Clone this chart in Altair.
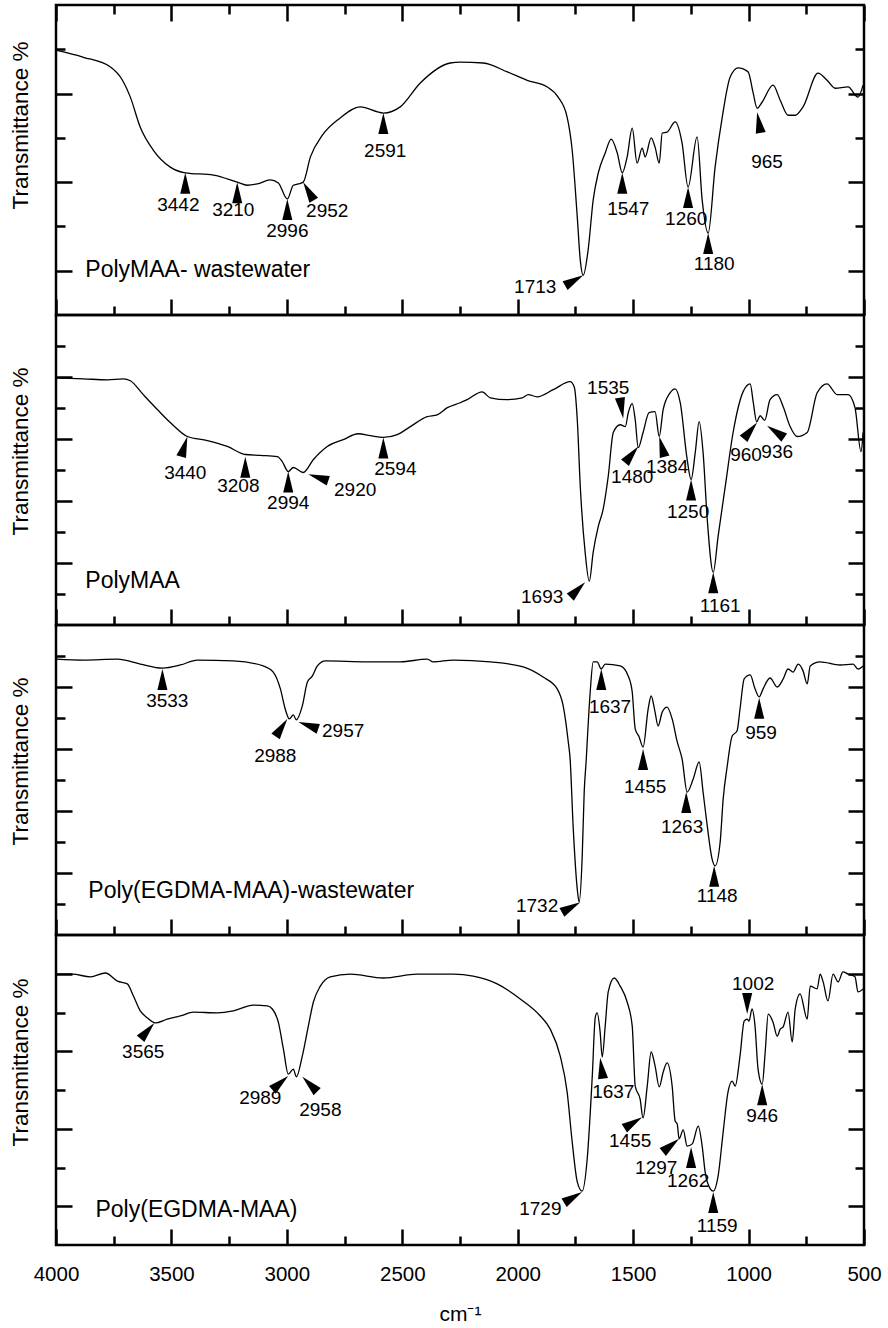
import altair as alt
import pandas as pd

W = 808
H = 310
FONT = "Liberation Sans"

X_MAJOR = [4000, 3500, 3000, 2500, 2000, 1500, 1000, 500]
X_MINOR = [3750, 3250, 2750, 2250, 1750, 1250, 750]

# ---------------- Panel 1: PolyMAA- wastewater ----------------
P1_WN = [4000, 3881, 3764, 3712, 3678, 3635, 3578, 3505, 3440, 3318, 3215, 3171, 3128, 3072, 3037,
         2998, 2972, 2950, 2929, 2898, 2846, 2769, 2682, 2582, 2509, 2422, 2292, 2249, 2149, 2045,
         1959, 1872, 1825, 1786, 1764, 1742, 1729, 1716, 1695, 1673, 1651, 1621, 1595, 1569, 1547,
         1526, 1504, 1483, 1461, 1448, 1422, 1405, 1387, 1374, 1353, 1318, 1288, 1262, 1223, 1201,
         1175, 1145, 1114, 1080, 1045, 1002, 980, 963, 941, 894, 863, 829, 798, 764, 699, 660, 625,
         569, 526, 504]
P1_T = [5.98, 5.82, 5.60, 5.30, 4.92, 4.24, 3.72, 3.34, 3.21, 3.16, 3.00, 2.93, 2.96, 3.05, 2.98,
        2.62, 2.93, 2.96, 3.00, 3.57, 4.06, 4.45, 4.70, 4.56, 4.70, 5.24, 5.69, 5.71, 5.69, 5.49,
        5.30, 5.15, 4.92, 4.47, 3.72, 2.21, 1.24, 0.90, 1.47, 2.60, 3.21, 3.66, 3.97, 3.66, 3.21,
        3.57, 4.22, 3.43, 3.77, 3.57, 4.00, 3.79, 3.43, 4.11, 4.13, 4.36, 3.88, 2.89, 4.02, 2.60,
        1.85, 3.34, 4.47, 5.37, 5.58, 5.49, 5.01, 4.67, 4.81, 5.19, 4.85, 4.51, 4.51, 4.70, 5.46, 5.30, 5.12,
        5.15, 4.92, 5.19]
P1_LABEL = ["3442", "3210", "2996", "2952", "2591", "1713", "1547", "1260", "1180", "965"]
P1_TIP_WN = [3440, 3215, 2998, 2929, 2582, 1716, 1547, 1262, 1175, 963]
P1_TIP_T = [3.21, 3.00, 2.62, 3.00, 4.56, 0.90, 3.21, 2.89, 1.85, 4.58]
P1_ANGLE = [0, 0, 0, 330, 0, 60, 0, 0, 0, 350]
P1_LAB_WN = [3470, 3232, 2998, 2825, 2574, 1924, 1521, 1270, 1149, 920]
P1_LAB_T = [2.48, 2.37, 1.90, 2.35, 3.70, 0.63, 2.39, 2.17, 1.15, 3.45]

# ---------------- Panel 2: PolyMAA ----------------
P2_WN = [4000, 3881, 3777, 3708, 3678, 3622, 3561, 3505, 3431, 3344, 3258, 3180, 3115, 3041, 3020,
         2994, 2972, 2929, 2885, 2825, 2756, 2691, 2639, 2582, 2522, 2465, 2392, 2349, 2305, 2249,
         2219, 2154, 2119, 2045, 1980, 1954, 1916, 1846, 1773, 1755, 1742, 1729, 1708, 1690, 1673,
         1651, 1630, 1608, 1586, 1556, 1534, 1521, 1504, 1491, 1478, 1457, 1431, 1405, 1387, 1370,
         1340, 1318, 1296, 1266, 1249, 1231, 1214, 1197, 1179, 1153, 1132, 1101, 1067, 1024, 993,
         980, 965, 950, 930, 907, 876, 850, 820, 790, 746, 703, 660, 616, 569, 539, 513, 504]
P2_T = [7.97, 7.94, 7.91, 7.94, 7.88, 7.43, 6.95, 6.53, 6.08, 5.95, 5.76, 5.50, 5.47, 5.43, 5.27,
        4.95, 5.08, 4.92, 5.34, 5.76, 5.98, 6.17, 6.11, 6.05, 6.14, 6.40, 6.72, 6.78, 7.01, 7.17,
        7.27, 7.52, 7.33, 7.27, 7.33, 7.43, 7.36, 7.59, 7.85, 7.68, 6.62, 4.47, 2.35, 1.41, 2.35,
        3.18, 3.73, 4.79, 6.21, 6.46, 6.40, 6.85, 7.14, 6.62, 5.72, 6.21, 6.85, 6.88, 6.08, 6.95,
        7.49, 7.62, 7.17, 5.34, 4.69, 5.56, 6.56, 5.56, 3.41, 1.70, 2.86, 4.47, 6.21, 7.52, 7.78,
        7.20, 6.55, 6.75, 6.60, 7.27, 7.43, 7.04, 6.40, 6.08, 6.21, 7.49, 7.78, 7.43, 7.43, 7.01, 5.59, 6.21]
P2_LABEL = ["3440", "3208", "2994", "2920", "2594", "1693", "1535", "1480", "1384", "1250", "1161", "960", "936"]
P2_TIP_WN = [3431, 3180, 2994, 2907, 2582, 1708, 1543, 1478, 1387, 1249, 1153, 963, 920]
P2_TIP_T = [6.08, 5.43, 4.95, 4.86, 6.05, 1.38, 6.66, 5.76, 6.08, 4.69, 1.70, 6.53, 6.43]
P2_ANGLE = [17, 0, 0, 288, 0, 45, 171, 39, 345, 0, 0, 40, 305]
P2_LAB_WN = [3440, 3210, 2994, 2704, 2530, 1894, 1608, 1504, 1353, 1262, 1123, 1011, 876]
P2_LAB_T = [4.89, 4.47, 3.95, 4.37, 5.02, 0.90, 7.65, 4.79, 5.11, 3.63, 0.61, 5.47, 5.59]

# ---------------- Panel 3: Poly(EGDMA-MAA)-wastewater ----------------
P3_WN = [4000, 3881, 3734, 3635, 3539, 3461, 3388, 3232, 3102, 3059, 3028, 3007, 2989, 2972, 2959,
         2933, 2911, 2890, 2868, 2833, 2652, 2509, 2392, 2366, 2279, 2119, 1976, 1890, 1829, 1803,
         1781, 1773, 1760, 1742, 1734, 1721, 1712, 1703, 1699, 1686, 1673, 1656, 1638, 1621, 1556,
         1521, 1504, 1491, 1474, 1457, 1435, 1422, 1405, 1392, 1374, 1353, 1331, 1309, 1288, 1266,
         1240, 1214, 1197, 1179, 1158, 1145, 1123, 1110, 1093, 1071, 1050, 1037, 1019, 993, 972,
         954, 937, 907, 876, 850, 829, 807, 785, 764, 746, 733, 690, 604, 547, 526, 504]
P3_T = [8.90, 8.87, 8.90, 8.74, 8.61, 8.71, 8.87, 8.84, 8.68, 8.48, 7.94, 7.29, 6.97, 7.10, 6.94,
        7.39, 8.16, 8.35, 8.68, 8.84, 8.81, 8.81, 8.90, 8.81, 8.87, 8.81, 8.65, 8.32, 7.94, 7.39,
        6.23, 5.68, 3.52, 1.48, 1.06, 2.45, 4.61, 5.68, 6.23, 7.84, 8.81, 8.81, 8.58, 8.74, 8.68,
        8.35, 7.84, 6.65, 6.39, 6.06, 7.29, 7.71, 7.19, 6.74, 7.19, 7.35, 6.97, 6.23, 5.68, 4.61,
        5.03, 5.58, 4.61, 3.52, 2.45, 2.23, 3.00, 4.39, 5.42, 6.42, 6.58, 7.29, 8.26, 8.39, 7.94,
        7.68, 7.94, 8.29, 8.00, 8.26, 8.58, 8.48, 8.74, 8.52, 8.10, 8.68, 8.81, 8.71, 8.74, 8.58, 8.68]
P3_LABEL = ["3533", "2988", "2957", "1732", "1637", "1455", "1263", "1148", "959"]
P3_TIP_WN = [3539, 2998, 2950, 1729, 1638, 1457, 1270, 1149, 954]
P3_TIP_T = [8.58, 6.97, 6.87, 1.06, 8.58, 6.00, 4.61, 2.23, 7.65]
P3_ANGLE = [0, 34, 289, 61, 0, 0, 0, 0, 0]
P3_LAB_WN = [3518, 3050, 2756, 1916, 1600, 1448, 1288, 1136, 946]
P3_LAB_T = [7.55, 5.77, 6.58, 0.94, 7.35, 4.77, 3.48, 1.26, 6.52]

# ---------------- Panel 4: Poly(EGDMA-MAA) ----------------
P4_WN = [4000, 3929, 3851, 3786, 3734, 3691, 3665, 3635, 3604, 3570, 3518, 3461, 3405, 3301, 3232,
         3145, 3085, 3063, 3037, 3015, 2994, 2972, 2959, 2933, 2907, 2885, 2855, 2812, 2725, 2582,
         2435, 2279, 2193, 2089, 1989, 1902, 1859, 1816, 1786, 1764, 1742, 1721, 1699, 1677, 1664,
         1656, 1643, 1634, 1621, 1608, 1582, 1556, 1526, 1504, 1491, 1470, 1457, 1439, 1422, 1405,
         1387, 1370, 1353, 1331, 1318, 1309, 1301, 1283, 1266, 1244, 1218, 1201, 1188, 1166, 1153,
         1132, 1110, 1089, 1071, 1058, 1037, 1019, 1006, 998, 985, 972, 959, 941, 928, 915, 894, 876,
         863, 850, 829, 811, 798, 777, 746, 733, 703, 690, 677, 656, 634, 612, 591, 569, 539, 526, 504]
P4_T = [6.99, 6.99, 6.92, 7.02, 6.81, 6.74, 6.43, 6.04, 5.86, 5.73, 5.83, 5.91, 6.01, 5.99, 6.04,
        6.19, 6.17, 6.09, 5.75, 5.06, 4.41, 4.54, 4.34, 4.88, 5.65, 6.27, 6.68, 6.92, 6.99, 6.89,
        6.99, 6.99, 6.94, 6.74, 6.35, 5.91, 5.57, 4.88, 3.95, 2.66, 1.63, 1.39, 2.22, 4.36, 5.88,
        5.99, 5.50, 4.85, 5.65, 6.53, 6.89, 6.68, 6.27, 5.65, 4.10, 3.77, 3.28, 4.10, 4.98, 4.62,
        4.08, 4.46, 4.70, 4.10, 3.20, 3.12, 2.74, 2.97, 2.55, 2.61, 3.07, 2.55, 1.88, 1.45, 1.39,
        1.78, 2.92, 3.95, 4.23, 4.10, 4.88, 5.78, 5.83, 5.78, 6.09, 5.65, 4.54, 4.15, 4.98, 5.96, 5.75, 5.39,
        5.57, 5.63, 6.01, 5.24, 6.09, 6.48, 5.83, 6.68, 6.61, 6.99, 6.79, 6.30, 6.99, 6.79, 7.05, 6.99, 6.92, 6.53, 6.61]
P4_LABEL = ["3565", "2989", "2958", "1729", "1637", "1455", "1297", "1262", "1159", "1002", "946"]
P4_TIP_WN = [3574, 2994, 2933, 1721, 1643, 1461, 1301, 1249, 1153, 1006, 941]
P4_TIP_T = [5.73, 4.36, 4.34, 1.37, 4.83, 3.30, 2.74, 2.53, 1.37, 5.96, 4.15]
P4_ANGLE = [41, 49, 315, 59, 352, 58, 51, 0, 0, 180, 0]
P4_LAB_WN = [3622, 3115, 2855, 1902, 1586, 1513, 1400, 1262, 1136, 980, 941]
P4_LAB_T = [4.98, 3.79, 3.48, 0.93, 3.95, 2.68, 1.99, 1.65, 0.49, 6.74, 3.33]

PANEL_NAMES = ["PolyMAA- wastewater", "PolyMAA", "Poly(EGDMA-MAA)-wastewater", "Poly(EGDMA-MAA)"]
NAME_WN = [3873, 3873, 3860, 3829]
NAME_T = [1.02, 1.41, 1.42, 0.90]

Y_DOMAINS = [[0, 7], [0, 10], [0, 10], [0, 8]]
Y_MAJOR = [[1, 3, 5], [2, 4, 6, 8], [2, 4, 6, 8], [1, 3, 5, 7]]
Y_MINOR = [[2, 4, 6], [1, 3, 5, 7, 9], [1, 3, 5, 7, 9], [2, 4, 6]]
TITLE_Y = [120, 136, 136, 127]

TRI = "M0,0L0.24,1L-0.24,1Z"


def tick_axis(orient, values, size, offset):
    return alt.Axis(orient=orient, values=values, tickSize=size, offset=offset,
                    labels=False, domain=False, grid=False, title=None, ticks=True,
                    tickColor="black", tickWidth=2.5)


def panel(i, wn, tr, lab, tip_wn, tip_t, ang, lab_wn, lab_t):
    xs = alt.Scale(domain=[4000, 500], nice=False, zero=False)
    ys = alt.Scale(domain=Y_DOMAINS[i], nice=False, zero=False)
    line_df = pd.DataFrame({"wn": wn, "t": tr})
    ann_df = pd.DataFrame({"label": lab, "wn": tip_wn, "t": tip_t, "ang": ang,
                           "lwn": lab_wn, "lt": lab_t})
    name_df = pd.DataFrame({"name": [PANEL_NAMES[i]], "wn": [NAME_WN[i]], "t": [NAME_T[i]]})
    top_panel = i == 0
    bottom_panel = i == 3

    line = alt.Chart(line_df).mark_line(color="black", strokeWidth=1.3, interpolate="monotone").encode(
        x=alt.X("wn:Q", scale=xs, axis=tick_axis("top", X_MAJOR, 16, -H)),
        y=alt.Y("t:Q", scale=ys, axis=tick_axis("right", Y_MAJOR[i], 16, -W)),
    )
    inv = alt.Chart(ann_df).mark_point(opacity=0)
    l2 = inv.encode(
        x=alt.X("wn:Q", scale=xs, axis=tick_axis("top", X_MINOR, 9, -H)),
        y=alt.Y("t:Q", scale=ys, axis=tick_axis("right", Y_MINOR[i], 9, -W)),
    )
    l3 = inv.encode(
        x=alt.X("wn:Q", scale=xs, axis=tick_axis("bottom", X_MAJOR, 16, -H) if top_panel else None),
        y=alt.Y("t:Q", scale=ys, axis=tick_axis("left", Y_MAJOR[i], 16, -W)),
    )
    l4 = inv.encode(
        x=alt.X("wn:Q", scale=xs, axis=tick_axis("bottom", X_MINOR, 9, -H) if top_panel else None),
        y=alt.Y("t:Q", scale=ys, axis=tick_axis("left", Y_MINOR[i], 9, -W)),
    )
    if bottom_panel:
        xlab = alt.Axis(orient="bottom", values=X_MAJOR, ticks=False, tickSize=0, domain=False,
                        grid=False, labelFont=FONT, labelFontSize=20.5, labelColor="black",
                        labelPadding=19, format="d", title="cm\u207b\u00b9", titleFont=FONT,
                        titleFontSize=21, titleFontWeight="normal", titleColor="black",
                        titlePadding=19, labelFlush=False)
    else:
        xlab = None
    l5 = inv.encode(
        x=alt.X("wn:Q", scale=xs, axis=xlab),
        y=alt.Y("t:Q", scale=ys, axis=alt.Axis(orient="left", ticks=False, labels=False, domain=False,
                                              grid=False, title="Transmittance %", titleFont=FONT,
                                              titleFontSize=22.5, titleFontWeight="normal",
                                              titleColor="black", titleAngle=270, titleX=-36,
                                              titleY=TITLE_Y[i], titleAlign="center",
                                              titleBaseline="middle")),
    )
    tri = alt.Chart(ann_df).mark_point(shape=TRI, size=1764, filled=True, color="black",
                                       opacity=1).encode(
        x=alt.X("wn:Q", scale=xs, axis=None),
        y=alt.Y("t:Q", scale=ys, axis=None),
        angle=alt.Angle("ang:Q", scale=None),
    )
    txt = alt.Chart(ann_df).mark_text(font=FONT, fontSize=19, color="black", align="center",
                                      baseline="middle").encode(
        x=alt.X("lwn:Q", scale=xs, axis=None),
        y=alt.Y("lt:Q", scale=ys, axis=None),
        text="label:N",
    )
    name = alt.Chart(name_df).mark_text(font=FONT, fontSize=23, color="black", align="left",
                                        baseline="middle").encode(
        x=alt.X("wn:Q", scale=xs, axis=None),
        y=alt.Y("t:Q", scale=ys, axis=None),
        text="name:N",
    )
    return alt.layer(line, l2, l3, l4, l5, tri, txt, name).resolve_axis(
        x="independent", y="independent").properties(width=W, height=H)


p1 = panel(0, P1_WN, P1_T, P1_LABEL, P1_TIP_WN, P1_TIP_T, P1_ANGLE, P1_LAB_WN, P1_LAB_T)
p2 = panel(1, P2_WN, P2_T, P2_LABEL, P2_TIP_WN, P2_TIP_T, P2_ANGLE, P2_LAB_WN, P2_LAB_T)
p3 = panel(2, P3_WN, P3_T, P3_LABEL, P3_TIP_WN, P3_TIP_T, P3_ANGLE, P3_LAB_WN, P3_LAB_T)
p4 = panel(3, P4_WN, P4_T, P4_LABEL, P4_TIP_WN, P4_TIP_T, P4_ANGLE, P4_LAB_WN, P4_LAB_T)

chart = alt.vconcat(p1, p2, p3, p4, spacing=0, bounds="flush").configure_view(
    stroke="black", strokeWidth=2.5
).properties(
    padding={"left": 7, "top": 2, "right": 2, "bottom": 0},
    background="white",
)

chart.save("out.html", embed_options={"renderer": "svg", "actions": False})
